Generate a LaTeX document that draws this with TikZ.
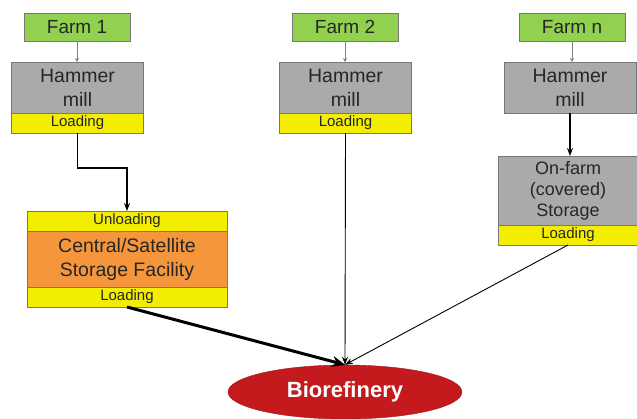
\documentclass[tikz,border=0pt]{standalone}
\usepackage{fontspec}
\setmainfont{Liberation Sans}
\usetikzlibrary{positioning,shapes.geometric,arrows.meta}
\definecolor{farmgreen}{RGB}{146,208,80}
\definecolor{millgray}{RGB}{170,170,170}
\definecolor{loadyellow}{RGB}{243,238,0}
\definecolor{storeorange}{RGB}{245,150,60}
\definecolor{biored}{RGB}{196,26,30}
\definecolor{edgegray}{RGB}{120,120,120}

\begin{document}
\begin{tikzpicture}[
  x=1pt, y=-1pt,
  box/.style={draw=edgegray, line width=0.8pt, inner sep=0pt, outer sep=0pt, align=center, text=black!85},
  farm/.style={box, fill=farmgreen, minimum width=106pt, minimum height=28pt, font=\fontsize{19}{23}\selectfont},
  mill/.style={box, fill=millgray, minimum width=132pt, minimum height=51pt, font=\fontsize{19.5}{24}\selectfont},
  loadbar/.style={box, fill=loadyellow, minimum height=20pt, font=\fontsize{15}{18}\selectfont},
  feed/.style={draw=gray, line width=0.8pt, -{Stealth[length=4pt,width=4pt]}},
  haul/.style={draw=black, line width=0.9pt, -{Stealth[length=8pt,width=6pt]}}
]
  \useasboundingbox (0,0) rectangle (637,418);

  % Granjas y molinos de martillo
  \foreach \i/\fx/\mx in {1/77/77.5, 2/345/345.5, n/572/570} {
    \node[farm] (f\i) at (\fx,27) {Farm \i};
    \node[mill] (m\i) at (\mx,87.5) {Hammer\\mill};
    \draw[feed] (f\i.south) -- (f\i.south |- m\i.north);
  }
  \node[loadbar, minimum width=132pt, below=0pt of m1] (l1) {Loading};
  \node[loadbar, minimum width=132pt, below=0pt of m2] (l2) {Loading};

  % Almacen central/satelite
  \node[loadbar, minimum width=200pt] (cu) at (127,221) {Unloading};
  \node[box, fill=storeorange, minimum width=200pt, minimum height=56pt,
        font=\fontsize{19.5}{24}\selectfont, below=0pt of cu] (cs) {Central/Satellite\\Storage Facility};
  \node[loadbar, minimum width=200pt, below=0pt of cs] (cl) {Loading};

  % Almacen en granja
  \node[box, fill=millgray, minimum width=140pt, minimum height=69pt,
        font=\fontsize{18}{21}\selectfont] (os) at (568,190.5) {On-farm\\(covered)\\Storage};
  \node[loadbar, minimum width=140pt, below=0pt of os] (ol) {Loading};

  % Biorrefineria
  \node[ellipse, fill=biored, draw=biored!80!black, minimum width=234pt, minimum height=54pt,
        inner sep=0pt, text=white, font=\fontsize{22}{26}\selectfont\bfseries] (bio) at (345,392) {Biorefinery};

  % Transporte
  \draw[haul, line width=1.2pt] (l1.south) -- ++(0,35) -| (cu.north);
  \draw[haul, line width=1.3pt] (mn.south) -- (mn.south |- os.north);
  \draw[haul, line width=3pt, -{Stealth[length=13pt,width=11pt]}] (cl.south) -- (bio.north);
  \draw[haul] (l2.south) -- (bio.north);
  \draw[haul] (ol.south) -- (bio.north);
\end{tikzpicture}
\end{document}
